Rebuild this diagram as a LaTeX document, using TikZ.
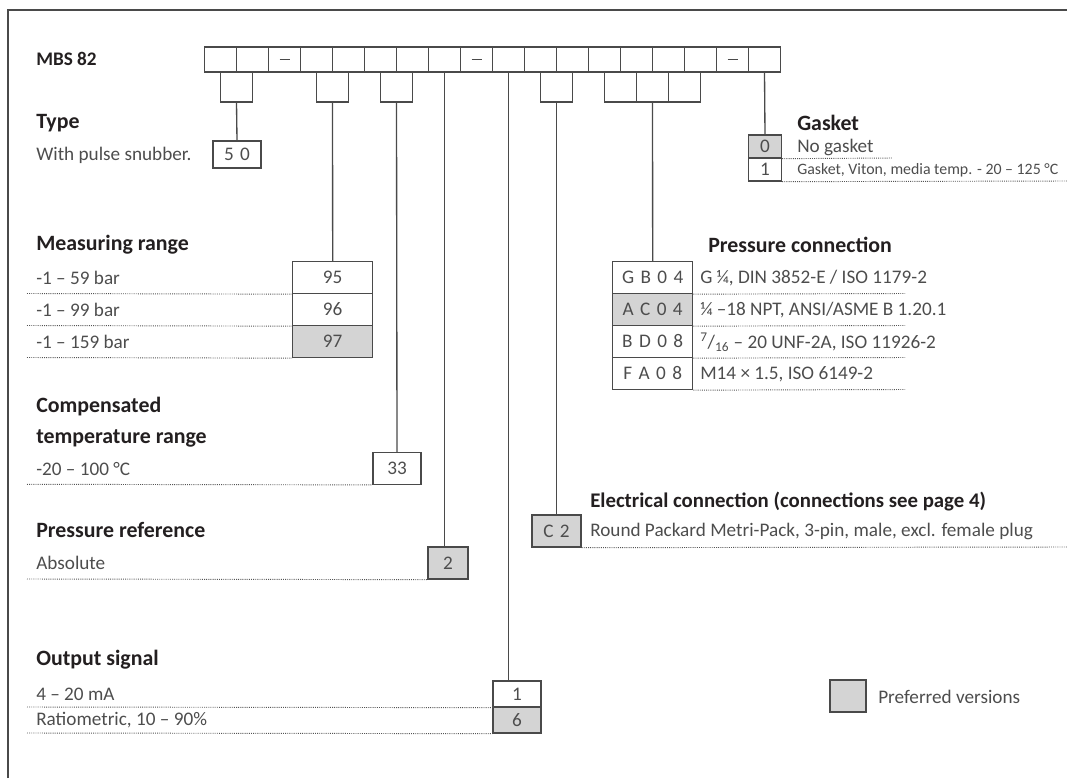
\documentclass[tikz,border=0pt]{standalone}
\usepackage{fontspec}
\setmainfont{Carlito}
\definecolor{lc}{HTML}{4A4A4A}
\definecolor{pg}{HTML}{D4D4D4}
\definecolor{tc}{HTML}{4D4D4D}
\definecolor{hc}{HTML}{231F20}
\definecolor{dc}{HTML}{555555}
\newcommand{\fs}{\fontsize{14.4pt}{17pt}\selectfont}
\newcommand{\fh}{\fontsize{16.4pt}{19pt}\selectfont\bfseries}
\newcommand{\fsm}{\fontsize{11.9pt}{13pt}\selectfont}
\begin{document}
\begin{tikzpicture}[x=0.75pt,y=-0.75pt,
  cell/.style={draw=lc, line width=1pt, minimum width=24pt, minimum height=18.75pt, inner sep=0pt},
  sub/.style={draw=lc, line width=1pt, minimum width=24pt, minimum height=22.5pt, inner sep=0pt},
  opt/.style={draw=lc, line width=1pt, minimum height=24pt, inner sep=0pt, font=\fs, text=tc},
  pref/.style={fill=pg},
  conn/.style={draw=lc, line width=1pt},
  dotl/.style={draw=dc, line width=0.7pt, dash pattern=on 0.7pt off 0.9pt},
  hd/.style={anchor=west, font=\fh, text=hc, inner sep=0pt},
  tx/.style={anchor=west, font=\fs, text=tc, inner sep=0pt},
  txs/.style={anchor=west, font=\fsm, text=tc, inner sep=0pt}]
\useasboundingbox (0,0) rectangle (1067,778);
% frame
\coordinate (fl) at (8,778);
\coordinate (fc) at (8,10);
\coordinate (fr) at (1067,10);
\draw[conn] (fl) -- (fc) -- (fr);
% title
\node[anchor=west, font=\fontsize{14.4pt}{17pt}\selectfont\bfseries, text=hc, inner sep=0pt] (title) at (36,59) {MBS 82};
% top row
\foreach \i in {0,...,17}{
  \node[cell] (t\i) at ({220.5+32*\i},59.5) {};
}
\foreach \i in {2,8,16}{
  \draw[lc, line width=0.8pt] ([xshift=-3.75pt]t\i.center) -- ([xshift=3.75pt]t\i.center);
}
% sub row
\node[sub] (sA) at (236.5,87) {};
\node[sub] (sB) at (332.5,87) {};
\node[sub] (sC) at (396.5,87) {};
\node[sub] (sD) at (556.5,87) {};
\node[sub] (sE1) at (620.5,87) {};
\node[sub] (sE2) at (652.5,87) {};
\node[sub] (sE3) at (684.5,87) {};
% Type
\node[hd] (typeh) at (36,123) {Type};
\node[tx] (typet) at (36,155) {With pulse snubber.};
\node[opt, minimum width=36pt, minimum height=20.25pt] (b50) at (237,154.5) {5\,\,0};
\draw[conn] (sA.south) -- (b50.north);
% Gasket
\node[hd] (gash) at (797,123) {Gasket};
\node[opt, pref, minimum width=24.75pt, minimum height=17.25pt] (g0) at (765,146.5) {0};
\node[opt, minimum width=24.75pt, minimum height=17.25pt] (g1) at (765,169.5) {1};
\node[tx] (g0t) at (797,147) {No gasket};
\node[txs] (g1t) at (797,170) {Gasket, Viton, media temp. - 20 -- 125 °C};
\draw[conn] (t17.south) -- (g0.north);
\coordinate (g0e) at (893,158);
\coordinate (g1e) at (1067,181);
\draw[dotl] (g0.south east) -- (g0e);
\draw[dotl] (g1.south east) -- (g1e);
% Measuring range
\node[hd] (mrh) at (36,245) {Measuring range};
\node[opt, minimum width=60pt] (m95) at (332.7,277.5) {95};
\node[opt, minimum width=60pt] (m96) at (332.7,309.5) {96};
\node[opt, pref, minimum width=60pt] (m97) at (332.7,341.5) {97};
\node[tx] (m95t) at (36,278) {-1 -- 59 bar};
\node[tx] (m96t) at (36,310) {-1 -- 99 bar};
\node[tx] (m97t) at (36,342) {-1 -- 159 bar};
\draw[conn] (sB.south) -- (m95.north);
\foreach \n/\y in {m95/293.5,m96/325.5,m97/357.5}{
  \coordinate (\n l) at (27,\y);
  \draw[dotl] (\n l) -- (\n.south west);
}
% Pressure connection
\node[hd] (pch) at (708,245) {Pressure connection};
\node[opt, minimum width=60pt] (p1) at (652.7,277.5) {G\,\,B\,\,0\,\,4};
\node[opt, pref, minimum width=60pt] (p2) at (652.7,309.5) {A\,\,C\,\,0\,\,4};
\node[opt, minimum width=60pt] (p3) at (652.7,341.5) {B\,\,D\,\,0\,\,8};
\node[opt, minimum width=60pt] (p4) at (652.7,373.5) {F\,\,A\,\,0\,\,8};
\node[tx] (p1t) at (700,278) {G ¼, DIN 3852-E / ISO 1179-2};
\node[tx] (p2t) at (700,310) {¼ --18 NPT, ANSI/ASME B 1.20.1};
\node[tx] (p3t) at (700,342) {\textsuperscript{7}/\textsubscript{16} -- 20 UNF-2A, ISO 11926-2};
\node[tx] (p4t) at (700,374) {M14 × 1.5, ISO 6149-2};
\draw[conn] (sE2.south) -- (p1.north);
\foreach \n/\y in {p1/293.5,p2/325.5,p3/357.5,p4/389.5}{
  \coordinate (\n r) at (905,\y);
  \draw[dotl] (\n.south east) -- (\n r);
}
% Compensated temperature
\node[hd] (cth1) at (36,407) {Compensated};
\node[hd] (cth2) at (36,438) {temperature range};
\node[tx] (ctt) at (36,469) {-20 -- 100 °C};
\node[opt, minimum width=36pt, minimum height=23.6pt] (c33) at (397,468.5) {33};
\draw[conn] (sC.south) -- (c33.north);
\coordinate (c33l) at (27,484.3);
\draw[dotl] (c33l) -- (c33.south west);
% Electrical connection
\node[hd, font=\fontsize{15.6pt}{19pt}\selectfont\bfseries] (ech) at (590,502) {Electrical connection (connections see page 4)};
\node[opt, pref, minimum width=36.75pt] (c2) at (556.5,531) {C\,\,2};
\node[tx] (c2t) at (590,531) {Round Packard Metri-Pack, 3-pin, male, excl. female plug};
\draw[conn] (sD.south) -- (c2.north);
\coordinate (c2r) at (1067,547);
\draw[dotl] (c2.south east) -- (c2r);
% Pressure reference
\node[hd] (prh) at (36,530) {Pressure reference};
\node[tx] (prt) at (36,563) {Absolute};
\node[opt, pref, minimum width=30pt] (b2) at (448,563) {2};
\draw[conn] (t7.south) -- (t7.south |- b2.north);
\coordinate (b2l) at (27,579);
\draw[dotl] (b2l) -- (b2.south west);
% Output signal
\node[hd] (osh) at (36,660) {Output signal};
\node[tx] (os1t) at (36,694) {4 -- 20 mA};
\node[tx] (os6t) at (36,720) {Ratiometric, 10 -- 90\%};
\node[opt, minimum width=36pt, minimum height=19.5pt] (o1) at (517,694) {1};
\node[opt, pref, minimum width=36pt, minimum height=19.5pt] (o6) at (517,720) {6};
\draw[conn] (t9.south) -- (t9.south |- o1.north);
\coordinate (o1l) at (27,707);
\coordinate (o6l) at (27,733);
\draw[dotl] (o1l) -- (o1.south west);
\draw[dotl] (o6l) -- (o6.south west);
% legend
\node[opt, pref, minimum width=27pt] (leg) at (848,696) {};
\node[tx] (legt) at (878,697) {Preferred versions};
\end{tikzpicture}
\end{document}
